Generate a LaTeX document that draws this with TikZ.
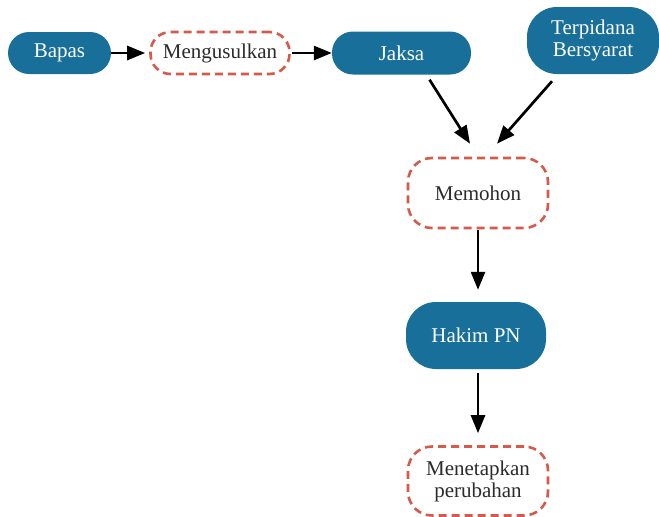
\documentclass[tikz,border=0pt]{standalone}
\usepackage{fontspec}
\setmainfont{Liberation Serif}
\usetikzlibrary{arrows.meta}
\definecolor{boxblue}{HTML}{176F9A}
\definecolor{dashred}{HTML}{D65A4A}
\definecolor{txtdark}{HTML}{2B2B2B}
\tikzset{
  base/.style={rectangle, inner sep=0pt, align=center, font=\fontsize{21}{22}\selectfont},
  bluebox/.style={base, fill=boxblue, text=white, rounded corners=21pt},
  redbox/.style={base, draw=dashred, line width=2.6pt, dash pattern=on 8pt off 5pt, text=txtdark, rounded corners=24pt},
  conn/.style={line width=2.7pt, -{Triangle[length=18pt,width=14pt]}},
}
\begin{document}
\begin{tikzpicture}[x=1pt,y=-1pt]
\useasboundingbox (0,0) rectangle (659,517);
\node[bluebox, minimum width=103pt, minimum height=42pt] (bapas) at (59.5,53) {Bapas};
\node[redbox, minimum width=139pt, minimum height=42pt, rounded corners=20pt] (meng) at (220,53) {Mengusulkan};
\node[bluebox, minimum width=139pt, minimum height=43pt] (jaksa) at (401.5,53) {Jaksa};
\node[bluebox, minimum width=132pt, minimum height=67pt, rounded corners=30pt] (terp) at (593,40.5) {Terpidana\\Bersyarat};
\node[redbox, minimum width=140pt, minimum height=70pt] (memohon) at (478,193) {Memohon};
\node[bluebox, minimum width=140pt, minimum height=67pt, rounded corners=30pt] (hakim) at (476,335.5) {Hakim PN};
\node[redbox, minimum width=140pt, minimum height=69pt] (menet) at (478,481) {Menetapkan\\perubahan};
\draw[conn, shorten >=4pt] (bapas.east) -- (meng.west);
\draw[conn, shorten <=1pt] (meng.east) -- (jaksa.west);
\draw[conn] ([xshift=28pt,yshift=-5pt]jaksa.south) -- ([xshift=-8pt,yshift=13pt]memohon.north);
\draw[conn] ([xshift=-41pt,yshift=-7pt]terp.south) -- ([xshift=19pt,yshift=13pt]memohon.north);
\draw[conn, shorten <=1pt, shorten >=12pt] (memohon.south) -- (memohon.south |- hakim.north);
\draw[conn, shorten <=4pt, shorten >=12pt] (hakim.south -| menet.north) -- (menet.north);
\end{tikzpicture}
\end{document}
